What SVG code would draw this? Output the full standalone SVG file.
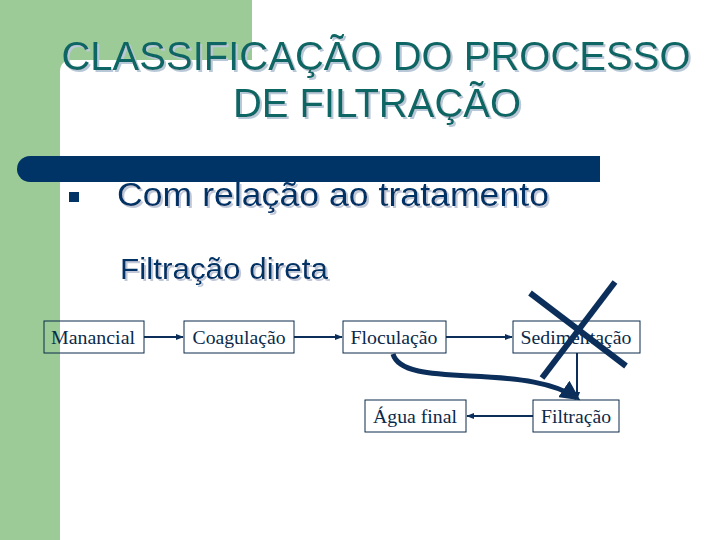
<svg xmlns="http://www.w3.org/2000/svg" width="720" height="540" viewBox="0 0 720 540">
<defs>
<style>
.title{font-family:"Liberation Sans",Arial,sans-serif;font-size:40px;text-anchor:middle;fill:#0b6663}
.sub{font-family:"Liberation Sans",Arial,sans-serif;fill:#003366}
.box{fill:none;stroke:#0b2a4a;stroke-width:1}
.lbl{font-family:"Liberation Serif","Times New Roman",serif;font-size:18px;fill:#0b2a4a;text-anchor:middle}
.conn{stroke:#0b2f5a;stroke-width:2;fill:none}
</style>
<filter id="shadowT" x="-5%" y="-20%" width="110%" height="140%">
<feOffset in="SourceAlpha" dx="2" dy="2" result="o"/>
<feFlood flood-color="#b8c8d8"/>
<feComposite in2="o" operator="in" result="s"/>
<feMerge><feMergeNode in="s"/><feMergeNode in="SourceGraphic"/></feMerge>
</filter>
<filter id="shadowS" x="-5%" y="-20%" width="110%" height="140%">
<feOffset in="SourceAlpha" dx="1.5" dy="1.5" result="o"/>
<feFlood flood-color="#c0c8d8"/>
<feComposite in2="o" operator="in" result="s"/>
<feMerge><feMergeNode in="s"/><feMergeNode in="SourceGraphic"/></feMerge>
</filter>
<marker id="ahThin" viewBox="0 0 10 10" refX="9" refY="5" markerWidth="8" markerHeight="8" orient="auto" markerUnits="userSpaceOnUse">
<path d="M0,1 L10,5 L0,9 z" fill="#0b2f5a"/>
</marker>
<marker id="ahBig" viewBox="0 0 10 10" refX="8" refY="5" markerWidth="4" markerHeight="4" orient="auto" markerUnits="strokeWidth">
<path d="M0,0 L10,5 L0,10 z" fill="#0b2f5a"/>
</marker>
</defs>
<rect width="720" height="540" fill="#ffffff"/>
<g id="background">
<rect x="0" y="0" width="252" height="72" fill="#9ccb98"/>
<rect x="0" y="0" width="60" height="540" fill="#9ccb98"/>
<path d="M60,72 Q60,60 72,60 H252 V540 H60 Z" fill="#ffffff"/>
<path d="M30,156 H600 V182 H30 A13,13 0 0 1 30,156 Z" fill="#003366"/>
</g>
<g id="title" filter="url(#shadowT)">
<text class="title" x="376" y="70">CLASSIFICAÇÃO DO PROCESSO</text>
<text class="title" x="377" y="117">DE FILTRAÇÃO</text>
</g>
<g id="bullet">
<rect x="69" y="192" width="10" height="10" fill="#003366"/>
<text class="sub" x="117" y="206" font-size="33" textLength="432" lengthAdjust="spacingAndGlyphs" filter="url(#shadowS)">Com relação ao tratamento</text>
</g>
<g id="subtitle">
<text class="sub" x="120" y="279" font-size="30" textLength="208" lengthAdjust="spacingAndGlyphs" filter="url(#shadowS)">Filtração direta</text>
</g>
<g id="connectors">
<line class="conn" x1="144" y1="337" x2="183" y2="337" marker-end="url(#ahThin)"/>
<line class="conn" x1="294" y1="337" x2="342" y2="337" marker-end="url(#ahThin)"/>
<line class="conn" x1="446" y1="337" x2="512" y2="337" marker-end="url(#ahThin)"/>
<line class="conn" x1="577" y1="353" x2="577" y2="399" marker-end="url(#ahThin)" stroke-width="1.5"/>
<line class="conn" x1="533" y1="416" x2="467" y2="416" marker-end="url(#ahThin)"/>
<path d="M393,354 C398,372 430,374 470,376 C520,378 555,383 577,398" fill="none" stroke="#0b2f5a" stroke-width="5" marker-end="url(#ahBig)"/>
</g>
<g id="manancial">
<rect class="box" x="44" y="321" width="100" height="32"/>
<text class="lbl" x="93" y="344" textLength="84" lengthAdjust="spacingAndGlyphs">Manancial</text>
</g>
<g id="coagulacao">
<rect class="box" x="184" y="321" width="110" height="32"/>
<text class="lbl" x="239" y="344" textLength="93" lengthAdjust="spacingAndGlyphs">Coagulação</text>
</g>
<g id="floculacao">
<rect class="box" x="343" y="321" width="103" height="32"/>
<text class="lbl" x="394" y="344" textLength="87" lengthAdjust="spacingAndGlyphs">Floculação</text>
</g>
<g id="sedimentacao">
<rect class="box" x="513" y="321" width="127" height="32"/>
<text class="lbl" x="576" y="344" textLength="111" lengthAdjust="spacingAndGlyphs">Sedimentação</text>
</g>
<g id="filtracao">
<rect class="box" x="533" y="400" width="86" height="32"/>
<text class="lbl" x="576" y="423" textLength="70" lengthAdjust="spacingAndGlyphs">Filtração</text>
</g>
<g id="agua-final">
<rect class="box" x="365" y="400" width="101" height="32"/>
<text class="lbl" x="415" y="423" textLength="84" lengthAdjust="spacingAndGlyphs">Água final</text>
</g>
<g id="cross">
<line x1="530" y1="293" x2="626" y2="366" stroke="#0b2f5a" stroke-width="6"/>
<line x1="615" y1="282" x2="542" y2="378" stroke="#0b2f5a" stroke-width="6"/>
</g>
</svg>
